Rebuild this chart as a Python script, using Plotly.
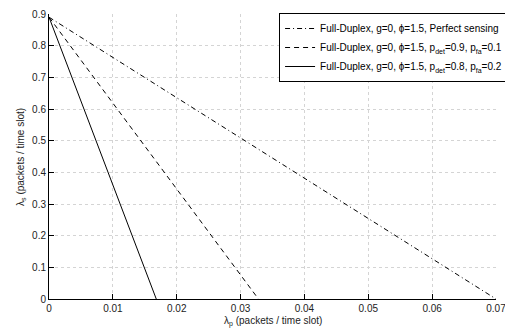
import plotly.graph_objects as go

# Data
series_names = [
    "Full-Duplex, g=0, \u03d5=1.5, Perfect sensing",
    "Full-Duplex, g=0, \u03d5=1.5, p<sub>det</sub>=0.9, p<sub>fa</sub>=0.1",
    "Full-Duplex, g=0, \u03d5=1.5, p<sub>det</sub>=0.8, p<sub>fa</sub>=0.2",
]
lambda_p_perfect = [0.0, 0.07]
lambda_s_perfect = [0.89, 0.0]
lambda_p_det09 = [0.0, 0.0328]
lambda_s_det09 = [0.89, 0.0]
lambda_p_det08 = [0.0, 0.0168]
lambda_s_det08 = [0.89, 0.0]

x_ticks = [0, 0.01, 0.02, 0.03, 0.04, 0.05, 0.06, 0.07]
x_tick_labels = ["0", "0.01", "0.02", "0.03", "0.04", "0.05", "0.06", "0.07"]
y_ticks = [0, 0.1, 0.2, 0.3, 0.4, 0.5, 0.6, 0.7, 0.8, 0.9]
y_tick_labels = ["0", "0.1", "0.2", "0.3", "0.4", "0.5", "0.6", "0.7", "0.8", "0.9"]

x_title = "\u03bb<sub>p</sub> (packets / time slot)"
y_title = "\u03bb<sub>s</sub> (packets / time slot)"

fig = go.Figure()
for name, xs, ys, dash in [
    (series_names[0], lambda_p_perfect, lambda_s_perfect, "5px,3px,1px,3px"),
    (series_names[1], lambda_p_det09, lambda_s_det09, "5px,4px"),
    (series_names[2], lambda_p_det08, lambda_s_det08, "solid"),
]:
    fig.add_trace(go.Scatter(x=xs, y=ys, mode="lines", name=name,
                             line=dict(color="black", width=1, dash=dash)))

FAM = "Liberation Sans, Arial, sans-serif"
font = dict(family=FAM, size=10, color="#222")
fig.update_layout(
    width=505, height=327,
    margin=dict(l=41, r=14, t=5, b=36),
    paper_bgcolor="white", plot_bgcolor="white",
    font=font,
    showlegend=True,
    legend=dict(x=1.027, y=1.0035, xanchor="right", yanchor="top",
                bordercolor="black", borderwidth=1, bgcolor="white",
                font=dict(family=FAM, size=10, color="black"),
                tracegroupgap=0, itemwidth=30),
    annotations=[
        dict(text=x_title, xref="paper", yref="paper", x=0.5, y=-0.08,
             xanchor="center", yanchor="middle", showarrow=False,
             font=dict(family=FAM, size=10, color="#222")),
        dict(text=y_title, xref="paper", yref="paper", x=-0.064, y=0.5,
             xanchor="center", yanchor="middle", showarrow=False, textangle=-90,
             font=dict(family=FAM, size=10, color="#222")),
    ],
)
fig.update_xaxes(
    range=[0, 0.07], tickvals=x_ticks, ticktext=x_tick_labels,
    showline=True, linecolor="black", linewidth=1, mirror=False,
    ticks="inside", ticklen=5, tickcolor="black",
    showgrid=True, gridcolor="#d4d4d4", griddash="dot", gridwidth=1,
    zeroline=False, automargin=False,
)
fig.update_yaxes(
    range=[0, 0.9], tickvals=y_ticks, ticktext=y_tick_labels,
    showline=True, linecolor="black", linewidth=1, mirror=False,
    ticks="inside", ticklen=5, tickcolor="black",
    showgrid=True, gridcolor="#d4d4d4", griddash="dot", gridwidth=1,
    zeroline=False, automargin=False,
)
fig.write_html("out.html")
